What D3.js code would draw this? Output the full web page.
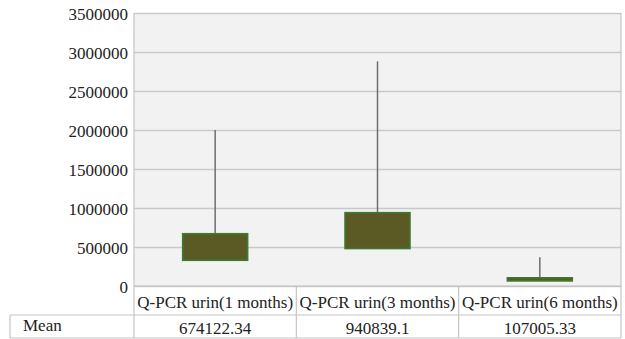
<!DOCTYPE html>
<html>
<head>
<meta charset="utf-8">
<script src="https://cdn.jsdelivr.net/npm/d3@7"></script>
<style>
  html, body { margin: 0; padding: 0; background: #ffffff; }
  svg { display: block; }
</style>
</head>
<body>
<svg id="chart" width="625" height="339"></svg>
<script>
const categories = ["Q-PCR urin(1 months)", "Q-PCR urin(3 months)", "Q-PCR urin(6 months)"];
const boxLow  = [330000, 480000, 65000];
const boxHigh = [670000, 940000, 105000];
const whiskerHigh = [2000000, 2880000, 370000];
const means = ["674122.34", "940839.1", "107005.33"];
const yTicks = [0, 500000, 1000000, 1500000, 2000000, 2500000, 3000000, 3500000];
const rowLabel = "Mean";

(function () {
const FONT = "'Liberation Serif', 'Times New Roman', serif";
const svg = d3.select("#chart");
const pLeft = 134, pRight = 621, pTop = 13, pBottom = 286;
const headerBottom = 315, tableBottom = 338, tableLeft = 10;

const x = d3.scaleBand().domain(categories).range([pLeft, pRight]).paddingInner(0).paddingOuter(0);
const y = d3.scaleLinear().domain([0, 3500000]).range([pBottom, pTop]);

svg.append("rect").attr("x", pLeft).attr("y", pTop).attr("width", pRight - pLeft).attr("height", pBottom - pTop)
  .attr("fill", "#f2f2f2");

const gridAxis = d3.axisLeft(y).tickValues(yTicks).tickSize(-(pRight - pLeft)).tickFormat("");
const grid = svg.append("g").attr("transform", `translate(${pLeft},0)`).call(gridAxis);
grid.select(".domain").remove();
grid.selectAll("line").attr("stroke", "#c9c9c9").attr("stroke-width", 1.5);

const yAxis = d3.axisLeft(y).tickValues(yTicks).tickSize(0).tickPadding(6).tickFormat(d3.format("d"));
const ya = svg.append("g").attr("transform", `translate(${pLeft},1)`).call(yAxis);
ya.select(".domain").remove();
ya.selectAll("text").style("font-family", FONT).style("font-size", "17px").attr("fill", "#222");

const tcol = "#c4c4c4";
svg.append("line").attr("x1", pLeft).attr("x2", pLeft).attr("y1", pTop).attr("y2", tableBottom).attr("stroke", tcol).attr("stroke-width", 1.2);
svg.append("line").attr("x1", pRight).attr("x2", pRight).attr("y1", pTop).attr("y2", tableBottom).attr("stroke", tcol).attr("stroke-width", 1.2);

const boxW = x.bandwidth() * 0.4;
svg.selectAll(".whisker").data(categories).enter().append("line")
  .attr("x1", d => x(d) + x.bandwidth() / 2)
  .attr("x2", d => x(d) + x.bandwidth() / 2)
  .attr("y1", (d, i) => y(whiskerHigh[i]))
  .attr("y2", (d, i) => y(boxHigh[i]))
  .attr("stroke", "#6e6e6e").attr("stroke-width", 1.5);

svg.selectAll(".box").data(categories).enter().append("rect")
  .attr("x", d => x(d) + (x.bandwidth() - boxW) / 2)
  .attr("width", boxW)
  .attr("y", (d, i) => y(boxHigh[i]))
  .attr("height", (d, i) => Math.max(y(boxLow[i]) - y(boxHigh[i]), 1))
  .attr("fill", "#5b5a25")
  .attr("stroke", "#3d7a2f").attr("stroke-width", 1.6);

svg.append("line").attr("x1", pLeft).attr("x2", pRight).attr("y1", pBottom).attr("y2", pBottom).attr("stroke", tcol).attr("stroke-width", 1.2);
svg.append("line").attr("x1", tableLeft).attr("x2", pRight).attr("y1", headerBottom).attr("y2", headerBottom).attr("stroke", tcol).attr("stroke-width", 1.2);
svg.append("line").attr("x1", tableLeft).attr("x2", pRight).attr("y1", tableBottom).attr("y2", tableBottom).attr("stroke", tcol).attr("stroke-width", 1.2);
svg.append("line").attr("x1", tableLeft).attr("x2", tableLeft).attr("y1", headerBottom).attr("y2", tableBottom).attr("stroke", tcol).attr("stroke-width", 1.2);
svg.selectAll(".sep").data(categories.slice(1)).enter().append("line")
  .attr("x1", d => x(d)).attr("x2", d => x(d))
  .attr("y1", pBottom).attr("y2", tableBottom)
  .attr("stroke", tcol).attr("stroke-width", 1.2);

svg.selectAll(".cat").data(categories).enter().append("text")
  .attr("x", d => x(d) + x.bandwidth() / 2)
  .attr("y", pBottom + 22)
  .attr("text-anchor", "middle")
  .style("font-family", FONT).style("font-size", "17px")
  .attr("fill", "#222")
  .text(d => d);

svg.selectAll(".mean").data(categories).enter().append("text")
  .attr("x", d => x(d) + x.bandwidth() / 2)
  .attr("y", headerBottom + 19)
  .attr("text-anchor", "middle")
  .style("font-family", FONT).style("font-size", "17px")
  .attr("fill", "#222")
  .text((d, i) => means[i]);

svg.append("text").attr("x", 23).attr("y", headerBottom + 16)
  .style("font-family", FONT).style("font-size", "17px")
  .attr("fill", "#222")
  .text(rowLabel);
})();
</script>
</body>
</html>
